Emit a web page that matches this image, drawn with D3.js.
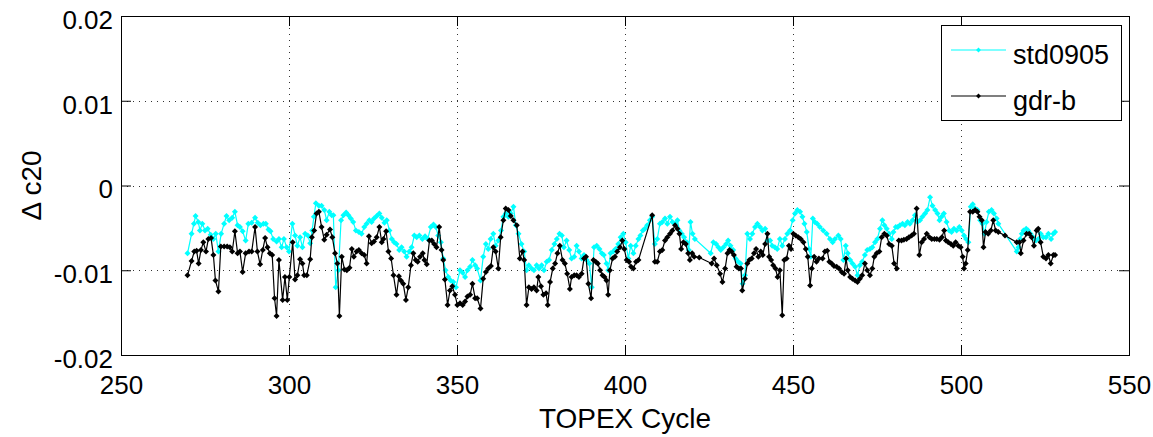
<!DOCTYPE html>
<html>
<head>
<meta charset="utf-8">
<script src="https://cdn.jsdelivr.net/npm/d3@7"></script>
<style>
  body { margin: 0; background: #fff; }
  svg { display: block; font-family: "Liberation Sans", Arial, sans-serif; }
</style>
</head>
<body>
<div id="chart"></div>
<script>
// values: [TOPEX cycle, delta c20 in units of 1e-3]
const std0905 = [
  [269.8,-8.0],[271.0,-5.7],[271.7,-4.5],[272.2,-3.6],[273.0,-4.3],[273.5,-5.3],[274.2,-4.5],[275.0,-5.3],
  [275.8,-5.1],[276.7,-5.8],[277.5,-6.3],[278.2,-5.7],[279.0,-7.8],[279.8,-5.7],[280.7,-4.5],[281.4,-3.6],
  [282.2,-4.1],[283.1,-3.8],[283.9,-3.1],[284.7,-4.7],[285.4,-4.9],[286.2,-5.4],[287.1,-6.5],[287.9,-4.5],
  [288.9,-4.4],[289.9,-3.8],[290.7,-4.4],[291.5,-4.7],[292.4,-4.5],[293.1,-4.5],[293.9,-5.2],[294.5,-5.4],
  [295.3,-6.3],[296.3,-6.6],[297.0,-6.3],[297.8,-7.3],[298.5,-6.3],[299.3,-7.3],[300.0,-7.8],[301.0,-4.5],
  [301.8,-5.9],[302.5,-7.1],[303.3,-6.1],[304.0,-7.3],[304.8,-5.7],[305.6,-5.9],[306.3,-6.8],[306.9,-5.3],
  [307.4,-3.7],[308.0,-2.1],[308.9,-2.4],[309.7,-2.4],[310.5,-2.9],[311.2,-4.1],[312.0,-3.1],[312.7,-3.5],
  [313.2,-3.5],[313.9,-12.0],[314.7,-10.0],[315.5,-4.1],[316.2,-3.5],[317.0,-3.2],[317.7,-3.5],[318.4,-3.9],
  [319.1,-4.3],[319.9,-5.3],[320.8,-5.5],[321.6,-5.7],[322.4,-4.9],[323.1,-4.5],[323.9,-4.1],[324.6,-4.3],
  [325.3,-3.9],[326.1,-3.6],[326.9,-3.3],[327.6,-3.8],[328.4,-4.4],[329.1,-4.1],[329.9,-5.3],[330.6,-6.3],
  [331.3,-6.7],[332.0,-6.9],[332.8,-7.6],[333.5,-7.3],[334.3,-7.8],[335.0,-8.4],[335.8,-7.8],[336.5,-7.3],
  [337.3,-5.9],[338.0,-6.1],[338.8,-5.9],[339.7,-6.3],[340.5,-6.0],[341.3,-6.3],[342.2,-4.9],[343.0,-4.6],
  [343.7,-4.9],[344.4,-5.9],[345.2,-6.7],[345.9,-8.6],[346.6,-10.0],[347.4,-10.8],[348.1,-11.2],[348.9,-11.4],
  [349.7,-12.0],[350.9,-10.0],[351.7,-10.3],[352.4,-10.8],[353.1,-10.0],[353.9,-9.6],[354.6,-8.8],[355.4,-9.4],
  [356.0,-9.8],[357.0,-11.2],[357.8,-8.4],[358.6,-6.9],[359.3,-7.5],[360.0,-6.3],[360.8,-5.7],[361.5,-7.1],
  [362.3,-6.5],[363.1,-5.3],[363.8,-3.7],[364.5,-3.3],[365.3,-3.7],[366.0,-3.3],[366.8,-2.5],[367.5,-4.7],
  [368.3,-5.7],[369.2,-6.9],[370.0,-7.8],[370.7,-10.0],[371.4,-9.4],[372.2,-9.8],[372.9,-10.0],[373.7,-9.4],
  [374.4,-9.8],[375.2,-9.4],[375.9,-10.0],[376.7,-9.0],[377.4,-8.8],[378.2,-7.6],[379.0,-6.9],[379.7,-6.3],
  [380.5,-5.7],[381.2,-5.9],[381.8,-7.3],[382.6,-6.5],[383.4,-7.6],[384.1,-8.6],[384.9,-8.4],[385.6,-7.1],
  [386.3,-7.8],[387.1,-8.6],[387.8,-8.2],[388.6,-8.8],[389.4,-9.2],[390.1,-12.0],[390.8,-7.3],[391.6,-7.1],
  [392.4,-7.5],[393.1,-8.0],[393.7,-8.2],[394.5,-9.2],[395.0,-10.0],[395.7,-8.0],[396.5,-7.8],[397.2,-7.5],
  [398.0,-6.9],[398.7,-6.1],[399.5,-5.7],[400.2,-6.7],[401.0,-8.6],[401.7,-7.1],[402.5,-8.0],[403.2,-7.1],
  [404.0,-6.3],[404.6,-5.9],[405.3,-5.3],[405.9,-5.1],[406.6,-4.7],[407.4,-4.1],[408.1,-3.7],[408.9,-6.9],
  [409.6,-6.3],[410.4,-4.5],[411.1,-4.3],[411.9,-3.9],[412.6,-4.5],[413.4,-3.7],[414.1,-4.3],[414.9,-4.5],
  [415.6,-4.1],[416.2,-5.3],[416.9,-5.7],[417.6,-6.1],[418.4,-6.7],[419.0,-7.6],[419.5,-4.3],[420.1,-5.7],
  [420.8,-6.3],[425.5,-8.0],[426.3,-6.7],[427.1,-6.9],[427.8,-7.3],[428.5,-7.6],[429.3,-7.3],[430.1,-6.9],
  [430.7,-6.5],[431.4,-7.1],[432.2,-7.6],[432.9,-8.6],[433.7,-9.0],[434.4,-9.2],[435.0,-11.6],[435.7,-10.6],
  [436.4,-5.7],[437.2,-6.3],[437.9,-5.7],[438.7,-4.9],[439.4,-4.5],[440.2,-4.9],[440.9,-5.3],[441.7,-5.1],
  [442.4,-6.5],[443.2,-6.5],[443.8,-7.1],[444.6,-7.3],[445.3,-7.5],[446.1,-6.3],[446.8,-7.1],[447.6,-6.3],
  [448.3,-5.7],[449.1,-5.3],[449.9,-4.1],[450.6,-3.3],[451.3,-2.9],[452.1,-3.1],[452.8,-3.7],[453.4,-4.5],
  [454.1,-5.5],[454.8,-7.5],[455.3,-8.4],[455.9,-3.9],[456.5,-4.3],[457.2,-4.5],[458.0,-4.9],[459.0,-5.3],
  [460.0,-5.7],[461.0,-6.3],[461.8,-6.7],[462.5,-6.3],[463.5,-5.9],[464.2,-6.3],[465.0,-8.8],[465.7,-7.1],
  [466.3,-8.0],[467.0,-8.8],[467.7,-9.2],[468.5,-9.6],[469.2,-10.6],[469.9,-9.4],[470.6,-9.0],[471.4,-8.2],
  [472.1,-7.6],[472.9,-7.5],[473.6,-7.3],[474.4,-6.7],[475.1,-6.3],[475.9,-5.1],[476.6,-4.1],[477.2,-4.7],
  [477.9,-5.1],[478.6,-5.7],[479.4,-6.3],[479.9,-5.5],[480.6,-4.9],[481.2,-4.9],[481.8,-4.7],[482.6,-4.5],
  [483.3,-4.7],[484.1,-4.3],[484.8,-4.5],[485.6,-4.1],[486.3,-3.5],[487.0,-4.3],[487.8,-4.1],[488.5,-3.7],
  [489.3,-3.3],[490.0,-2.9],[490.8,-1.4],[491.5,-2.4],[492.3,-2.9],[493.0,-3.3],[493.6,-4.1],[494.2,-3.7],
  [494.9,-3.3],[495.7,-4.3],[496.5,-5.3],[497.2,-5.5],[497.9,-5.1],[498.7,-5.3],[499.5,-4.9],[500.2,-5.3],
  [500.9,-5.9],[501.5,-6.3],[502.2,-6.7],[502.9,-2.5],[503.5,-2.2],[504.2,-2.7],[504.9,-2.9],[505.7,-4.1],
  [506.4,-4.5],[507.0,-5.7],[507.6,-4.3],[508.3,-3.1],[509.1,-2.9],[509.8,-3.3],[510.6,-3.9],[511.1,-4.5],
  [516.6,-7.8],[517.1,-7.3],[517.6,-6.3],[518.1,-5.7],[518.6,-5.3],[519.4,-5.1],[520.0,-5.3],[520.7,-5.7],
  [521.5,-6.1],[522.3,-6.5],[523.0,-6.3],[523.7,-5.7],[524.5,-6.1],[525.3,-6.1],[526.0,-5.7],[526.8,-6.3],
  [527.5,-5.7],[528.0,-5.5]
];

const gdrB = [
  [269.8,-10.6],[271.0,-8.9],[271.8,-7.8],[272.5,-7.7],[273.1,-9.2],[273.8,-7.6],[274.5,-6.7],[275.3,-7.8],
  [276.0,-6.3],[276.8,-6.2],[277.5,-8.2],[278.1,-11.2],[279.0,-12.5],[279.7,-7.2],[280.7,-7.2],[281.6,-7.2],
  [282.4,-7.3],[283.1,-7.8],[283.9,-5.4],[284.7,-8.0],[285.4,-7.8],[286.2,-10.2],[287.1,-8.0],[288.1,-7.8],
  [288.9,-7.8],[289.9,-4.9],[290.6,-7.8],[291.4,-9.3],[292.2,-7.6],[292.9,-6.2],[293.6,-7.3],[294.3,-8.0],
  [295.0,-8.2],[295.7,-13.3],[296.3,-15.4],[297.0,-8.8],[298.1,-13.5],[298.8,-10.8],[299.5,-13.5],[300.1,-10.8],
  [301.1,-6.7],[301.8,-11.1],[302.5,-10.6],[303.3,-8.7],[304.0,-9.2],[304.5,-10.6],[305.3,-10.6],[306.3,-8.7],
  [306.8,-6.1],[307.5,-5.3],[308.2,-3.3],[308.9,-3.1],[309.7,-4.9],[310.5,-6.4],[311.2,-5.8],[312.2,-5.2],
  [312.9,-6.1],[313.7,-8.0],[314.4,-9.2],[315.0,-15.4],[315.7,-8.4],[316.5,-9.9],[317.2,-10.0],[318.0,-9.7],
  [318.7,-7.5],[319.3,-8.4],[320.1,-7.8],[320.8,-7.6],[321.6,-8.0],[322.4,-8.2],[323.1,-9.2],[323.8,-6.0],
  [324.6,-6.8],[325.3,-6.6],[326.1,-6.1],[326.9,-4.9],[327.6,-6.7],[328.1,-6.3],[328.9,-5.4],[329.6,-7.8],
  [330.4,-8.6],[331.1,-10.6],[332.0,-12.9],[332.7,-10.7],[333.3,-11.2],[334.0,-11.6],[334.8,-13.5],[335.5,-12.0],
  [336.3,-9.4],[337.0,-8.0],[337.7,-8.8],[338.3,-9.0],[339.0,-8.4],[339.8,-8.0],[340.3,-8.8],[341.0,-9.3],
  [341.8,-6.5],[342.5,-6.5],[343.2,-6.9],[343.9,-7.3],[344.7,-4.9],[345.4,-7.6],[345.9,-8.8],[346.4,-11.1],
  [347.2,-14.1],[347.9,-12.4],[348.6,-11.9],[349.4,-12.9],[350.1,-14.1],[350.9,-13.9],[351.7,-14.1],[352.4,-13.7],
  [353.1,-13.1],[353.9,-12.9],[354.6,-11.6],[355.4,-13.3],[356.0,-13.3],[357.0,-14.5],[357.8,-11.0],[358.6,-10.2],
  [359.3,-9.8],[360.1,-9.5],[360.8,-7.3],[361.5,-7.8],[362.3,-9.8],[363.0,-6.1],[363.8,-4.1],[364.5,-2.7],
  [365.3,-2.9],[366.0,-3.6],[366.8,-4.1],[367.8,-4.7],[368.7,-8.6],[369.5,-7.8],[370.0,-8.8],[370.7,-14.1],
  [371.4,-12.0],[372.2,-12.2],[372.9,-12.0],[373.7,-12.4],[374.2,-10.8],[375.0,-11.9],[375.7,-12.9],[376.5,-12.7],
  [377.0,-14.1],[377.7,-11.4],[378.5,-9.8],[379.2,-9.2],[379.9,-8.0],[380.6,-7.1],[381.4,-8.8],[382.1,-9.2],
  [382.8,-10.4],[383.6,-12.2],[384.1,-10.8],[384.9,-10.6],[385.6,-10.6],[386.3,-10.8],[387.1,-10.4],[387.8,-8.6],
  [388.4,-8.4],[389.1,-11.6],[389.9,-13.3],[390.6,-8.8],[391.3,-9.0],[391.9,-9.2],[392.6,-10.0],[393.3,-10.6],
  [393.9,-10.8],[394.5,-11.2],[395.0,-12.9],[395.5,-10.0],[396.3,-8.6],[397.0,-8.4],[397.7,-7.8],[398.5,-7.3],
  [399.2,-6.5],[399.8,-7.5],[400.5,-8.8],[401.2,-9.0],[401.8,-9.6],[402.5,-9.8],[403.3,-9.0],[404.0,-8.8],
  [408.1,-3.5],[408.9,-9.0],[409.6,-9.0],[410.4,-7.8],[411.1,-7.6],[411.9,-6.5],[412.6,-6.1],[413.4,-5.7],
  [414.1,-5.3],[414.9,-4.7],[415.6,-5.1],[416.2,-5.7],[416.7,-7.5],[417.4,-6.7],[418.1,-6.9],[418.8,-8.0],
  [419.3,-8.8],[420.0,-8.0],[420.6,-8.4],[422.1,-8.5],[425.8,-9.2],[426.5,-8.6],[427.3,-9.4],[428.3,-10.4],
  [429.0,-11.4],[429.8,-9.8],[430.5,-8.0],[431.1,-7.6],[431.7,-7.8],[432.4,-8.2],[433.2,-9.6],[433.9,-9.8],
  [434.5,-9.8],[434.9,-12.4],[435.7,-11.0],[436.4,-9.2],[437.0,-8.8],[437.7,-8.6],[438.4,-8.0],[439.0,-7.5],
  [439.7,-8.4],[440.4,-7.8],[441.0,-8.2],[441.7,-6.9],[442.4,-5.7],[442.9,-8.4],[443.5,-8.8],[444.1,-9.4],
  [444.8,-9.8],[445.4,-10.8],[446.1,-10.0],[446.8,-15.3],[447.4,-8.8],[448.1,-8.6],[448.8,-7.1],[449.4,-7.5],
  [450.1,-5.7],[450.8,-5.9],[451.6,-6.1],[452.3,-6.3],[453.1,-6.7],[453.8,-7.5],[454.4,-8.4],[455.1,-11.8],
  [455.6,-9.8],[456.3,-8.4],[457.0,-9.0],[457.7,-8.6],[458.8,-8.6],[459.5,-7.8],[460.2,-7.7],[460.8,-9.0],
  [461.5,-9.2],[462.2,-9.5],[463.0,-9.6],[463.7,-9.8],[464.5,-10.2],[465.2,-10.4],[465.8,-8.6],[466.3,-10.0],
  [467.0,-10.8],[467.7,-11.0],[468.5,-11.2],[469.2,-11.4],[469.9,-11.0],[470.6,-10.6],[471.4,-9.2],[472.1,-10.0],
  [472.9,-10.6],[473.6,-9.8],[474.2,-8.4],[474.9,-8.0],[475.7,-7.8],[476.4,-6.1],[477.2,-5.7],[477.9,-5.9],
  [478.6,-6.9],[479.4,-7.1],[480.1,-9.2],[480.9,-9.8],[481.5,-6.5],[482.3,-6.5],[483.0,-6.4],[483.8,-6.3],
  [484.5,-6.1],[485.3,-5.9],[486.0,-5.7],[486.8,-2.7],[487.6,-8.2],[488.3,-6.7],[489.0,-6.3],[489.8,-5.7],
  [490.6,-6.1],[491.3,-6.3],[492.1,-6.3],[492.8,-6.3],[493.6,-6.4],[494.3,-6.1],[495.0,-5.3],[495.5,-6.5],
  [496.2,-6.7],[497.0,-6.9],[497.7,-7.1],[498.4,-6.7],[499.2,-7.1],[499.9,-7.3],[500.5,-8.4],[500.9,-9.8],
  [501.4,-9.2],[502.0,-7.6],[502.7,-3.1],[503.5,-3.1],[504.2,-2.9],[504.9,-3.1],[505.5,-3.7],[506.2,-4.1],
  [506.7,-7.3],[507.3,-5.5],[508.1,-5.7],[508.9,-5.3],[509.6,-4.1],[510.3,-5.3],[511.1,-5.5],[513.1,-5.9],
  [516.6,-6.7],[517.4,-6.7],[517.8,-8.0],[518.6,-6.5],[519.5,-5.7],[520.3,-5.7],[521.0,-6.1],[521.7,-7.1],
  [522.5,-5.3],[523.0,-5.1],[523.7,-6.7],[524.5,-8.4],[525.3,-8.6],[526.0,-8.2],[526.7,-9.2],[527.5,-8.2],
  [528.0,-8.2]
];

const xTicks = [250, 300, 350, 400, 450, 500, 550];
const yTicks = [-0.02, -0.01, 0, 0.01, 0.02];
const yTickLabels = ["-0.02", "-0.01", "0", "0.01", "0.02"];
const seriesNames = ["std0905", "gdr-b"];
const seriesColors = ["#00ffff", "#000000"];

// layout
const W = 1153, H = 437;
const plot = { left: 121, right: 1129, top: 16, bottom: 355 };

const svg = d3.select("#chart").append("svg")
  .attr("width", W).attr("height", H);

const x = d3.scaleLinear().domain([250, 550]).range([plot.left, plot.right]);
const y = d3.scaleLinear().domain([-0.02, 0.02]).range([plot.bottom, plot.top]);

// grid (dotted, inner lines only)
const grid = svg.append("g").attr("stroke", "#333").attr("stroke-width", 1).attr("stroke-dasharray", "1,5");
xTicks.slice(1, -1).forEach(t => {
  grid.append("line")
    .attr("x1", Math.round(x(t)) + 0.5).attr("x2", Math.round(x(t)) + 0.5)
    .attr("y1", plot.top).attr("y2", plot.bottom);
});
yTicks.slice(1, -1).forEach(t => {
  grid.append("line")
    .attr("y1", Math.round(y(t)) + 0.5).attr("y2", Math.round(y(t)) + 0.5)
    .attr("x1", plot.left).attr("x2", plot.right);
});

// axes with inward ticks
const tickLen = 10;
const fmtY = d => yTickLabels[yTicks.indexOf(d)];

const xAxisB = svg.append("g").attr("transform", `translate(0,${plot.bottom})`)
  .call(d3.axisBottom(x).tickValues(xTicks).tickSize(-tickLen).tickSizeOuter(0).tickPadding(21).tickFormat(d3.format("d")));
const xAxisT = svg.append("g").attr("transform", `translate(0,${plot.top})`)
  .call(d3.axisTop(x).tickValues(xTicks).tickSize(-tickLen).tickSizeOuter(0).tickFormat(""));
const yAxisL = svg.append("g").attr("transform", `translate(${plot.left},0)`)
  .call(d3.axisLeft(y).tickValues(yTicks).tickSize(-tickLen).tickSizeOuter(0).tickPadding(8).tickFormat(fmtY));
const yAxisR = svg.append("g").attr("transform", `translate(${plot.right},0)`)
  .call(d3.axisRight(y).tickValues(yTicks).tickSize(-tickLen).tickSizeOuter(0).tickFormat(""));

[xAxisB, xAxisT, yAxisL, yAxisR].forEach(a => {
  a.select(".domain").remove();
  a.selectAll(".tick line").attr("stroke", "#000");
  a.selectAll("text").attr("fill", "#000").style("font-size", "26px")
    .style("font-family", '"Liberation Sans", Arial, sans-serif');
});
yAxisL.selectAll("text").attr("y", 4);

// plot box
svg.append("rect")
  .attr("x", plot.left + 0.5).attr("y", plot.top + 0.5)
  .attr("width", plot.right - plot.left).attr("height", plot.bottom - plot.top)
  .attr("fill", "none").attr("stroke", "#000").attr("stroke-width", 1);

// series
const line = d3.line().x(d => x(d[0])).y(d => y(d[1] * 1e-3));
const marker = d3.symbol().type(d3.symbolSquare).size(18)();
const legendMarker = d3.symbol().type(d3.symbolSquare).size(12)();

[std0905, gdrB].forEach((data, i) => {
  const g = svg.append("g");
  g.append("path").datum(data)
    .attr("d", line)
    .attr("fill", "none")
    .attr("stroke", seriesColors[i])
    .attr("stroke-width", 1.2);
  g.selectAll("path.mk").data(data).enter().append("path")
    .attr("class", "mk")
    .attr("d", marker)
    .attr("transform", d => `translate(${x(d[0])},${y(d[1] * 1e-3)}) rotate(45)`)
    .attr("fill", seriesColors[i]);
});

// legend
const lg = svg.append("g");
lg.append("rect")
  .attr("x", 941.5).attr("y", 25.5).attr("width", 180).attr("height", 95)
  .attr("fill", "#fff").attr("stroke", "#000").attr("stroke-width", 1);
seriesNames.forEach((name, i) => {
  const ly = 50 + i * 46;
  lg.append("line").attr("x1", 951).attr("x2", 1006).attr("y1", ly).attr("y2", ly)
    .attr("stroke", seriesColors[i]).attr("stroke-width", 1.2);
  lg.append("path").attr("d", legendMarker)
    .attr("transform", `translate(978.5,${ly}) rotate(45)`)
    .attr("fill", seriesColors[i]);
  lg.append("text").attr("x", 1013).attr("y", ly + 14)
    .style("font-size", "27px").attr("fill", "#000").text(name);
});

// axis labels
svg.append("text")
  .attr("x", (plot.left + plot.right) / 2).attr("y", 428)
  .attr("text-anchor", "middle").style("font-size", "28px")
  .text("TOPEX Cycle");

svg.append("text")
  .attr("transform", `translate(41,${(plot.top + plot.bottom) / 2}) rotate(-90)`)
  .attr("text-anchor", "middle").style("font-size", "28px")
  .text("Δ c20");
</script>
</body>
</html>
